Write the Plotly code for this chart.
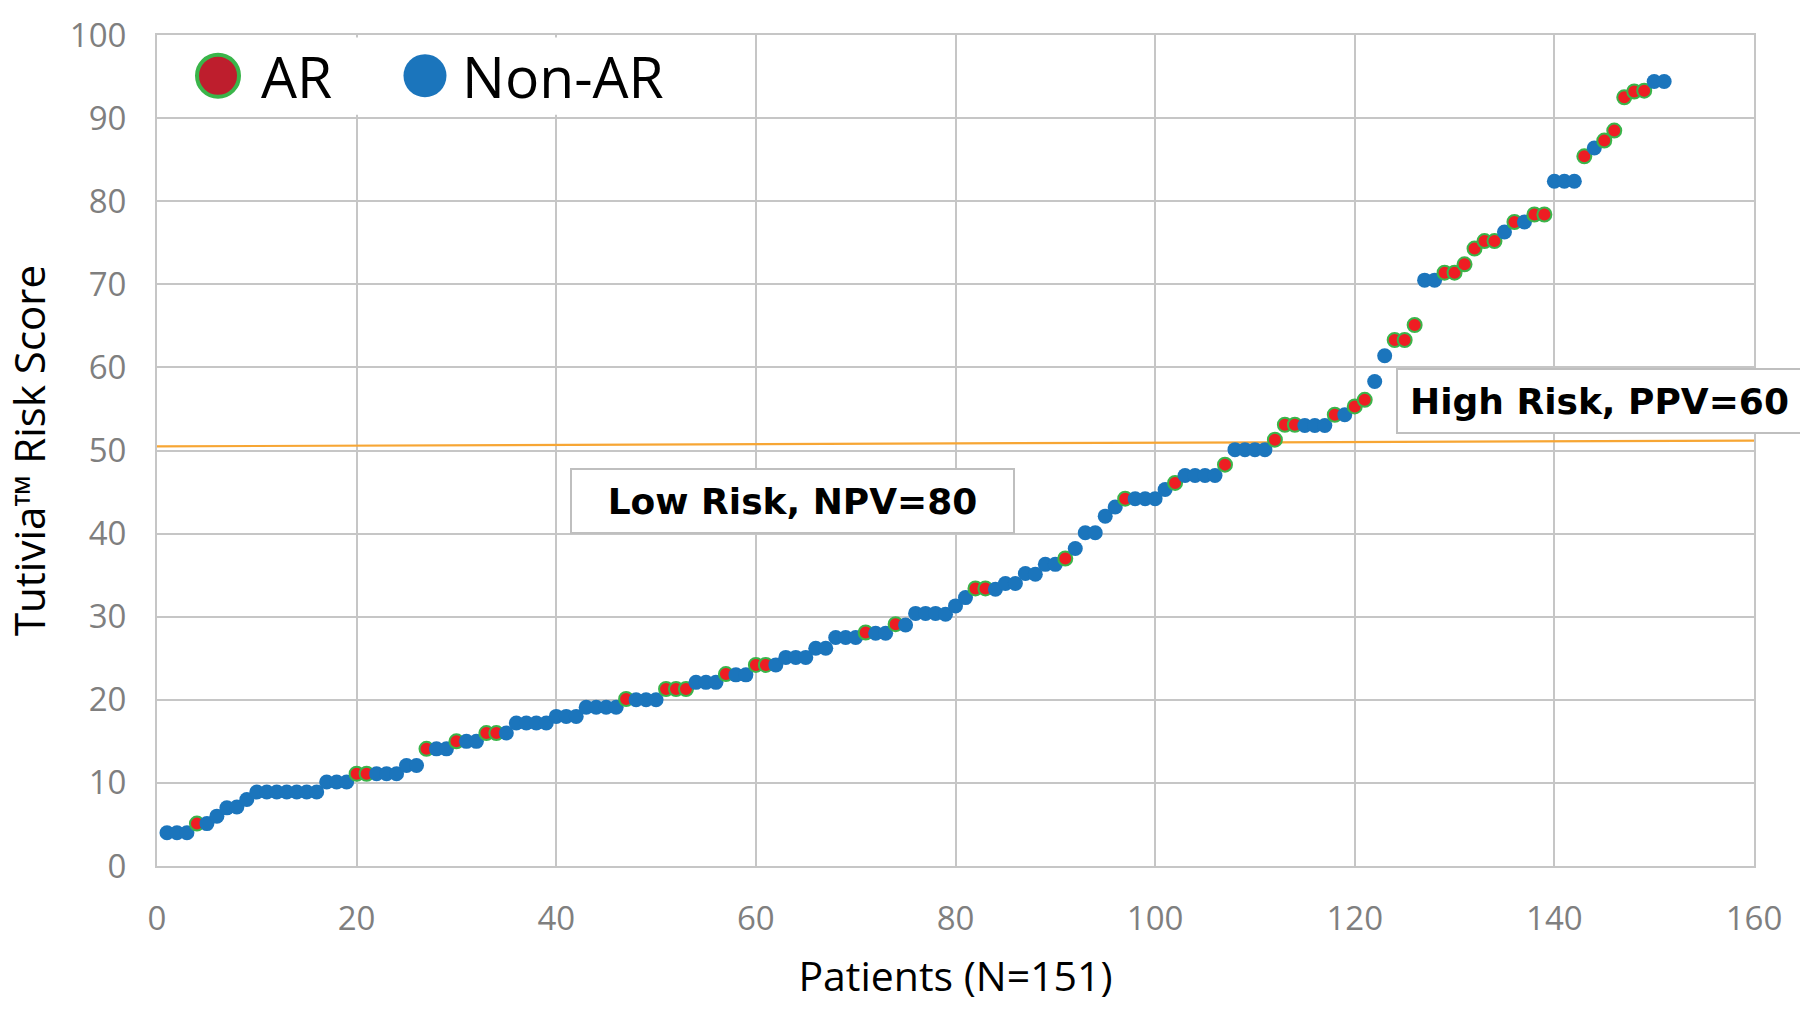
import plotly.graph_objects as go

# ---------------- data ----------------
scores = [
    4, 4, 4, 5.1, 5.1, 6, 7, 7.1, 8, 8.9,
    8.9, 8.9, 8.9, 8.9, 8.9, 8.9, 10.1, 10.1, 10.1, 11.1,
    11.1, 11.1, 11.1, 11.1, 12.1, 12.1, 14.1, 14.1, 14.1, 15,
    15, 15, 16, 16, 16, 17.2, 17.2, 17.2, 17.2, 18,
    18, 18, 19.1, 19.1, 19.1, 19.1, 20.1, 20, 20, 20,
    21.3, 21.3, 21.3, 22.1, 22.1, 22.1, 23.1, 23, 23, 24.2,
    24.2, 24.2, 25.1, 25.1, 25.1, 26.2, 26.2, 27.5, 27.5, 27.5,
    28.1, 28, 28, 29.1, 29, 30.4, 30.4, 30.4, 30.3, 31.3,
    32.3, 33.4, 33.4, 33.3, 34, 34, 35.2, 35.1, 36.3, 36.3,
    37, 38.2, 40.1, 40.1, 42.1, 43.2, 44.2, 44.2, 44.2, 44.2,
    45.3, 46.1, 47, 47, 47, 47, 48.3, 50.1, 50.1, 50.1,
    50.1, 51.3, 53.1, 53.1, 53, 53, 53, 54.3, 54.3, 55.3,
    56.1, 58.3, 61.4, 63.3, 63.3, 65.1, 70.5, 70.5, 71.4, 71.4,
    72.4, 74.3, 75.2, 75.2, 76.3, 77.5, 77.5, 78.4, 78.4, 82.4,
    82.4, 82.4, 85.4, 86.4, 87.3, 88.5, 92.5, 93.2, 93.3, 94.4,
    94.4,
]
patients = list(range(1, len(scores) + 1))
ar_patients = [4, 20, 21, 27, 30, 33, 34, 47, 51, 52, 53, 57, 60, 61, 71, 74,
               82, 83, 91, 97, 102, 107, 112, 113, 114, 118, 120, 121, 124,
               125, 126, 129, 130, 131, 132, 133, 134, 136, 138, 139, 143,
               145, 146, 147, 148, 149]
threshold_x = [0, 160]
threshold_y = [50.5, 51.2]
x_ticks = [0, 20, 40, 60, 80, 100, 120, 140, 160]
y_ticks = [0, 10, 20, 30, 40, 50, 60, 70, 80, 90, 100]
legend_labels = ["AR", "Non-AR"]
box_labels = ["Low Risk, NPV=80", "High Risk, PPV=60"]

# ---------------- styles ----------------
BLUE = "#1B75BC"
RED = "#EE1D23"
GREEN = "#3AB54A"
LEG_RED = "#BE1E2D"
ORANGE = "#F7A634"
GRID = "#C6C6C6"
TICK = "#7F7F7F"
FONT = "Open Sans"
BOX_FONT = "DejaVu Sans"

is_ar = [p in ar_patients for p in patients]
fill = [RED if a else BLUE for a in is_ar]
edge = [GREEN if a else BLUE for a in is_ar]
edge_w = [2 if a else 0 for a in is_ar]
sizes = [14 if a else 15 for a in is_ar]

fig = go.Figure()
fig.add_trace(go.Scatter(
    x=threshold_x, y=threshold_y, mode="lines",
    line=dict(color=ORANGE, width=2.2), showlegend=False, hoverinfo="skip"))
fig.add_trace(go.Scatter(
    x=patients, y=scores, mode="markers",
    marker=dict(size=sizes, color=fill, opacity=1, line=dict(color=edge, width=edge_w)),
    showlegend=False))

LEG_Y = 0.951
shapes = [
    # white legend background hiding the grid
    dict(type="rect", xref="paper", yref="y", x0=0.002, x1=0.334, y0=90.4, y1=99.7,
         fillcolor="white", line=dict(width=0), layer="above"),
    dict(type="circle", xref="paper", yref="paper", xsizemode="pixel", ysizemode="pixel",
         xanchor=0.0382, yanchor=LEG_Y, x0=-21, x1=21, y0=-21, y1=21,
         fillcolor=LEG_RED, line=dict(color=GREEN, width=4), layer="above"),
    dict(type="circle", xref="paper", yref="paper", xsizemode="pixel", ysizemode="pixel",
         xanchor=0.1678, yanchor=LEG_Y, x0=-21.5, x1=21.5, y0=-21.5, y1=21.5,
         fillcolor=BLUE, line=dict(color=BLUE, width=0), layer="above"),
]

annotations = [
    dict(xref="paper", yref="paper", x=0.0640, y=LEG_Y, xanchor="left", yanchor="middle",
         text=legend_labels[0], showarrow=False, font=dict(family=FONT, size=57, color="black")),
    dict(xref="paper", yref="paper", x=0.1900, y=LEG_Y, xanchor="left", yanchor="middle",
         text=legend_labels[1], showarrow=False, font=dict(family=FONT, size=57, color="black")),
    dict(x=63.7, y=43.95, xref="x", yref="y", text="<b>" + box_labels[0] + "</b>",
         showarrow=False, font=dict(family=BOX_FONT, size=36, color="black"),
         bgcolor="white", bordercolor="#BFBFBF", borderwidth=2, borderpad=0,
         width=441, height=62),
    dict(x=144.5, y=55.93, xref="x", yref="y", text="<b>" + box_labels[1] + "</b>",
         showarrow=False, font=dict(family=BOX_FONT, size=36, color="black"),
         bgcolor="white", bordercolor="#BFBFBF", borderwidth=2, borderpad=0,
         width=403, height=62),
]

fig.update_layout(
    width=1800, height=1011,
    margin=dict(l=157, r=46, t=28, b=145),
    paper_bgcolor="white", plot_bgcolor="white",
    font=dict(family=FONT),
    shapes=shapes, annotations=annotations,
    showlegend=False,
)
fig.update_xaxes(
    range=[0, 160], tickvals=x_ticks, ticks="", ticklabelstandoff=22,
    showgrid=True, gridcolor=GRID, gridwidth=2,
    showline=True, linecolor=GRID, linewidth=2, mirror=True, zeroline=False,
    tickfont=dict(family=FONT, size=33, color=TICK),
    title=dict(text="Patients (N=151)", font=dict(family=FONT, size=41, color="black"), standoff=24),
)
fig.update_yaxes(
    range=[0, 100], tickvals=y_ticks, ticks="", ticklabelstandoff=22,
    showgrid=True, gridcolor=GRID, gridwidth=2,
    showline=True, linecolor=GRID, linewidth=2, mirror=True, zeroline=False,
    tickfont=dict(family=FONT, size=33, color=TICK),
    title=dict(text="Tutivia™ Risk Score", font=dict(family=FONT, size=42, color="black"), standoff=22),
)

fig.write_html("out.html", config={"displayModeBar": False},
               post_script="document.body.style.margin='0px';")
